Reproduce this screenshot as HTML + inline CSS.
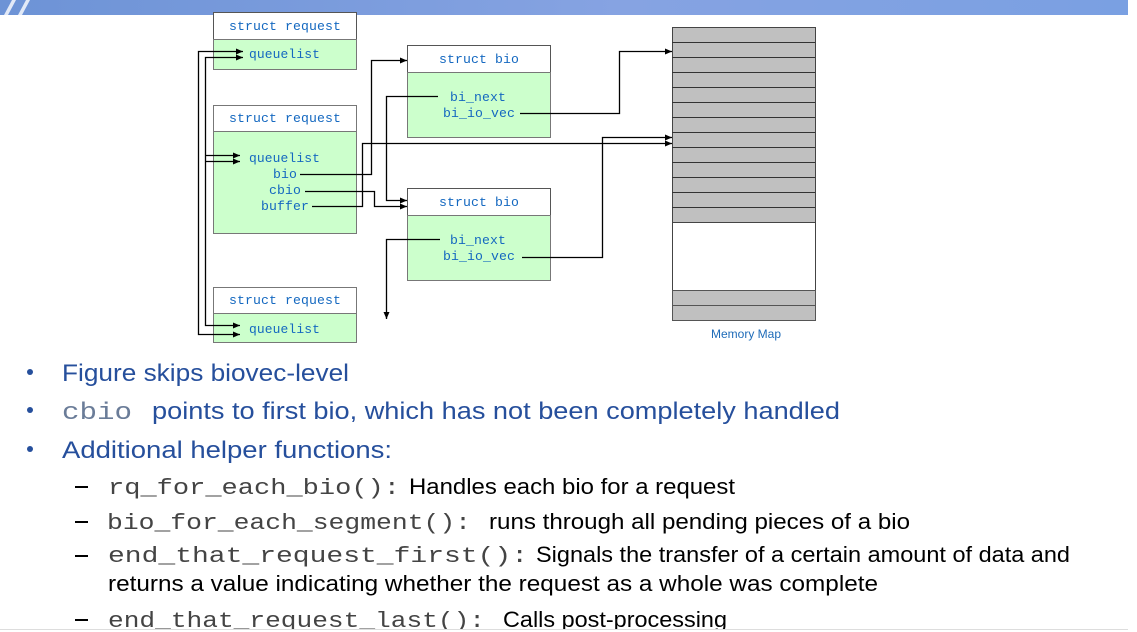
<!DOCTYPE html>
<html><head><meta charset="utf-8"><style>
html,body{margin:0;padding:0;background:#fff;width:1137px;height:632px;overflow:hidden}
svg{display:block}
.mono{font-family:"Liberation Mono",monospace}
.sans{font-family:"Liberation Sans",sans-serif}
</style></head><body>
<svg width="1137" height="632" viewBox="0 0 1137 632">
<defs>
<linearGradient id="bn" x1="0" x2="1"><stop offset="0" stop-color="#6d93d6"/><stop offset="0.55" stop-color="#86a3e2"/><stop offset="1" stop-color="#7aa0e2"/></linearGradient>
<marker id="ar" markerWidth="8" markerHeight="8" refX="7" refY="4" orient="auto-start-reverse" markerUnits="userSpaceOnUse"><path d="M0,1 L7,4 L0,7 z" fill="#000"/></marker>
</defs>
<g>
<rect x="0" y="0" width="1128" height="15" fill="url(#bn)"/>
<path d="M4,15 L12,0 L16,0 L8,15z M18,15 L26,0 L30,0 L22,15z" fill="#fff" opacity="0.8"/>
</g>
<g class="mono" font-size="13" letter-spacing="0.1" fill="#1468c0">
<g>
<rect x="213.5" y="12.5" width="143" height="27" fill="#fff" stroke="#555"/>
<rect x="213.5" y="39.5" width="143" height="30" fill="#ccffcc" stroke="#777"/>
<text x="229" y="30" textLength="112" lengthAdjust="spacingAndGlyphs">struct request</text>
<text x="249" y="58" textLength="71" lengthAdjust="spacingAndGlyphs">queuelist</text>
</g>
<g>
<rect x="213.5" y="105.5" width="143" height="26" fill="#fff" stroke="#777"/>
<rect x="213.5" y="131.5" width="143" height="102" fill="#ccffcc" stroke="#777"/>
<text x="229" y="122" textLength="112" lengthAdjust="spacingAndGlyphs">struct request</text>
<text x="249" y="162" textLength="71" lengthAdjust="spacingAndGlyphs">queuelist</text>
<text x="273" y="178" textLength="24" lengthAdjust="spacingAndGlyphs">bio</text>
<text x="269" y="194" textLength="32" lengthAdjust="spacingAndGlyphs">cbio</text>
<text x="261" y="210" textLength="48" lengthAdjust="spacingAndGlyphs">buffer</text>
</g>
<g>
<rect x="213.5" y="287.5" width="143" height="26" fill="#fff" stroke="#777"/>
<rect x="213.5" y="313.5" width="143" height="29" fill="#ccffcc" stroke="#777"/>
<text x="229" y="304" textLength="112" lengthAdjust="spacingAndGlyphs">struct request</text>
<text x="249" y="333" textLength="71" lengthAdjust="spacingAndGlyphs">queuelist</text>
</g>
<g>
<rect x="407.5" y="45.5" width="143" height="27" fill="#fff" stroke="#555"/>
<rect x="407.5" y="72.5" width="143" height="65" fill="#ccffcc" stroke="#777"/>
<text x="439" y="63" textLength="80" lengthAdjust="spacingAndGlyphs">struct bio</text>
<text x="450" y="101" textLength="56" lengthAdjust="spacingAndGlyphs">bi_next</text>
<text x="443" y="117" textLength="72" lengthAdjust="spacingAndGlyphs">bi_io_vec</text>
</g>
<g>
<rect x="407.5" y="188.5" width="143" height="27" fill="#fff" stroke="#555"/>
<rect x="407.5" y="215.5" width="143" height="65" fill="#ccffcc" stroke="#777"/>
<text x="439" y="206" textLength="80" lengthAdjust="spacingAndGlyphs">struct bio</text>
<text x="450" y="244" textLength="56" lengthAdjust="spacingAndGlyphs">bi_next</text>
<text x="443" y="260" textLength="72" lengthAdjust="spacingAndGlyphs">bi_io_vec</text>
</g>
<g>
<rect x="672.5" y="27.5" width="143" height="195" fill="#c0c0c0" stroke="#444"/>
<path d="M672,42.5h143M672,57.5h143M672,72.5h143M672,87.5h143M672,102.5h143M672,117.5h143M672,132.5h143M672,147.5h143M672,162.5h143M672,177.5h143M672,192.5h143M672,207.5h143" stroke="#333"/>
<rect x="672.5" y="222.5" width="143" height="68" fill="#fff" stroke="#444"/>
<rect x="672.5" y="290.5" width="143" height="30" fill="#c0c0c0" stroke="#555"/>
<path d="M672,305.5h143" stroke="#555"/>
<text font-family="Liberation Sans,sans-serif" letter-spacing="0" x="746" y="338" text-anchor="middle" font-size="12" fill="#1e6bb8">Memory Map</text>
</g>
<g fill="none" stroke="#000" stroke-width="1.3">
<path d="M243,51.5H198.5V334.5H240" marker-start="url(#ar)" marker-end="url(#ar)"/>
<path d="M243,57.5H205.5V325.5H240" marker-start="url(#ar)" marker-end="url(#ar)"/>
<path d="M205.5,155.5H240" marker-end="url(#ar)"/>
<path d="M205.5,161.5H240" marker-end="url(#ar)"/>
<path d="M300,174.5H371.5V60.5H407" marker-end="url(#ar)"/>
<path d="M312,206.5H362.5V143.5H672" marker-end="url(#ar)"/>
<path d="M305,191.5H374.5V206.5H407" marker-end="url(#ar)"/>
<path d="M438,96.5H386.5V200.5H407" marker-end="url(#ar)"/>
<path d="M440,239.5H386.5V319" marker-end="url(#ar)"/>
<path d="M520,113.5H619.5V51.5H672" marker-end="url(#ar)"/>
<path d="M522,257.5H602.5V137.5H672" marker-end="url(#ar)"/>
</g>
</g>
<g font-size="24" fill="#264f9c">
<circle cx="30" cy="372" r="3"/>
<text class="sans" x="62" y="381" textLength="287" lengthAdjust="spacingAndGlyphs">Figure skips biovec-level</text>
<circle cx="30" cy="410" r="3"/>
<text class="mono" x="62" y="419" textLength="70" lengthAdjust="spacingAndGlyphs" fill="#6a7c98">cbio</text>
<text class="sans" x="152" y="419" textLength="688" lengthAdjust="spacingAndGlyphs">points to first bio, which has not been completely handled</text>
<circle cx="30" cy="449" r="3"/>
<text class="sans" x="62" y="458" textLength="330" lengthAdjust="spacingAndGlyphs">Additional helper functions:</text>
</g>
<g font-size="22" fill="#000">
<g>
<rect x="75" y="486" width="13" height="2"/>
<text class="mono" x="108" y="494" textLength="292" lengthAdjust="spacingAndGlyphs" fill="#444">rq_for_each_bio():</text>
<text class="sans" x="409" y="494" textLength="326" lengthAdjust="spacingAndGlyphs">Handles each bio for a request</text>
</g>
<g>
<rect x="75" y="521" width="13" height="2"/>
<text class="mono" x="107" y="529" textLength="364" lengthAdjust="spacingAndGlyphs" fill="#444">bio_for_each_segment():</text>
<text class="sans" x="489" y="529" textLength="421" lengthAdjust="spacingAndGlyphs">runs through all pending pieces of a bio</text>
</g>
<g>
<rect x="75" y="555" width="13" height="2"/>
<text class="mono" x="108" y="562" textLength="420" lengthAdjust="spacingAndGlyphs" fill="#444">end_that_request_first():</text>
<text class="sans" x="536" y="562" textLength="534" lengthAdjust="spacingAndGlyphs">Signals the transfer of a certain amount of data and</text>
<text class="sans" x="108" y="591" textLength="770" lengthAdjust="spacingAndGlyphs">returns a value indicating whether the request as a whole was complete</text>
</g>
<g>
<rect x="75" y="619" width="13" height="2"/>
<text class="mono" x="108" y="627" textLength="377" lengthAdjust="spacingAndGlyphs" fill="#444">end_that_request_last():</text>
<text class="sans" x="503" y="627" textLength="224" lengthAdjust="spacingAndGlyphs">Calls post-processing</text>
</g>
</g>
<rect x="0" y="629" width="1137" height="3" fill="#fff"/>
<path d="M0,629.5H1128" stroke="#ddd"/>
</svg>
</body></html>
